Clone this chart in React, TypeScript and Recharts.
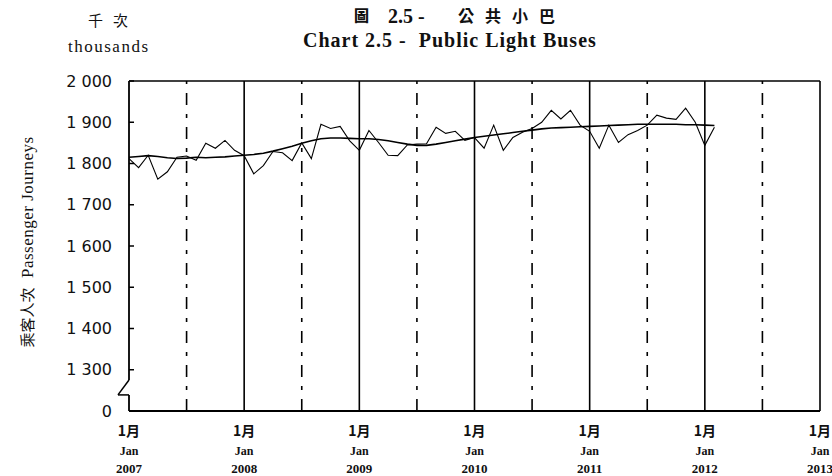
import React from 'react';
import { LineChart, Line, XAxis, YAxis, ReferenceLine } from 'recharts';

// monthly passenger journeys ('000), Jan 2007 - Feb 2012
const journeys = [
  1812, 1790, 1820, 1762, 1780, 1815, 1818, 1808, 1849, 1837, 1856, 1832,
  1819, 1775, 1795, 1829, 1826, 1807, 1850, 1812, 1895, 1885, 1890, 1855,
  1832, 1880, 1851, 1820, 1819, 1845, 1847, 1848, 1888, 1873, 1878, 1856,
  1863, 1837, 1893, 1832, 1863, 1876, 1885, 1900, 1929, 1908, 1929, 1893,
  1878, 1837, 1893, 1851, 1870, 1880, 1893, 1917, 1910, 1907, 1934, 1900,
  1844, 1888,
];

// trend line
const trend = [
  1815, 1817, 1819, 1817, 1814, 1812, 1813, 1815, 1814, 1815, 1816, 1818,
  1820, 1822, 1825, 1830, 1836, 1842, 1849, 1855, 1860, 1862, 1862, 1861,
  1860, 1860, 1858, 1855, 1851, 1847, 1844, 1844, 1847, 1851, 1855, 1859,
  1863, 1866, 1869, 1872, 1875, 1878, 1881, 1884, 1886, 1887, 1888, 1889,
  1890, 1891, 1892, 1893, 1894, 1895, 1895, 1895, 1895, 1895, 1894, 1894,
  1893, 1892,
];

const years = ['2007', '2008', '2009', '2010', '2011', '2012', '2013'];
const yearTicks = [0, 12, 24, 36, 48, 60, 72];
const halfYears = [6, 18, 30, 42, 54, 66];

// broken axis: 0, then 1 300 .. 2 000
const BREAK_OFFSET = 1200;
const yTicks = [0, 100, 200, 300, 400, 500, 600, 700, 800];
const yTickLabels = ['0', '1 300', '1 400', '1 500', '1 600', '1 700', '1 800', '1 900', '2 000'];

const data = journeys.map((v, i) => ({ m: i, v: v - BREAK_OFFSET, t: trend[i] - BREAK_OFFSET }));

const SERIF = '"Liberation Serif", "DejaVu Serif", serif';
const CJK = '"Noto Sans CJK TC", "Noto Sans CJK SC", sans-serif';

function YTick({ x, y, payload }: any) {
  const i = yTicks.indexOf(payload.value);
  return (
    <g>
      {payload.value > 0 && <line x1={x} x2={x + 5} y1={y} y2={y} stroke="#000" strokeWidth={1.5} />}
      <text x={x - 17} y={y} textAnchor="end" dominantBaseline="central" fontSize={16} fontFamily='"DejaVu Sans", sans-serif' fill="#111">
        {yTickLabels[i]}
      </text>
    </g>
  );
}

function XTick({ x, y, payload }: any) {
  const i = yearTicks.indexOf(payload.value);
  return (
    <g>
      <text x={x} y={y + 25} textAnchor="middle" fontSize={14} fontWeight="bold" fontFamily={CJK} fill="#111">1月</text>
      <text x={x} y={y + 44} textAnchor="middle" fontSize={12} fontWeight="bold" fontFamily={SERIF} fill="#111">Jan</text>
      <text x={x} y={y + 62} textAnchor="middle" fontSize={13} fontWeight="bold" fontFamily={SERIF} fill="#111">{years[i]}</text>
    </g>
  );
}

const abs = (left: number, top: number, extra: React.CSSProperties = {}): React.CSSProperties => ({
  position: 'absolute',
  left,
  top,
  lineHeight: 1,
  whiteSpace: 'pre',
  color: '#111',
  ...extra,
});

export default function App() {
  return (
    <div style={{ position: 'relative', width: 832, height: 476, background: '#fff', overflow: 'hidden' }}>
      <style>{'body{margin:0}'}</style>
      <LineChart width={832} height={476} data={data} margin={{ top: 81, right: 12, left: 0, bottom: 0 }}>
        <XAxis
          dataKey="m"
          type="number"
          domain={[0, 72]}
          ticks={yearTicks}
          interval={0}
          height={65}
          tickSize={0}
          tickMargin={0}
          tickLine={false}
          axisLine={{ stroke: '#000', strokeWidth: 2 }}
          tick={<XTick />}
        />
        <YAxis
          type="number"
          domain={[0, 800]}
          ticks={yTicks}
          interval={0}
          width={129}
          tickSize={0}
          tickMargin={0}
          tickLine={false}
          axisLine={false}
          tick={<YTick />}
        />
        {halfYears.map((m) => (
          <ReferenceLine key={'h' + m} x={m} stroke="#000" strokeWidth={1.6} strokeDasharray="12 9 4 9" />
        ))}
        {yearTicks.slice(1).map((m) => (
          <ReferenceLine key={'y' + m} x={m} stroke="#000" strokeWidth={1.6} />
        ))}
        <ReferenceLine y={800} stroke="#000" strokeWidth={1.6} />
        {/* y axis with break symbol */}
        <ReferenceLine segment={[{ x: 0, y: 800 }, { x: 0, y: 75 }]} stroke="#000" strokeWidth={1.8} ifOverflow="visible" />
        <ReferenceLine segment={[{ x: 0, y: 75 }, { x: -1.15, y: 39 }]} stroke="#000" strokeWidth={1.5} ifOverflow="visible" />
        <ReferenceLine segment={[{ x: -1.15, y: 39 }, { x: 0, y: 39 }]} stroke="#000" strokeWidth={1.5} ifOverflow="visible" />
        <ReferenceLine segment={[{ x: 0, y: 39 }, { x: 0, y: 0 }]} stroke="#000" strokeWidth={1.8} ifOverflow="visible" />
        <Line type="linear" dataKey="v" stroke="#000" strokeWidth={1.1} dot={false} isAnimationActive={false} />
        <Line type="linear" dataKey="t" stroke="#000" strokeWidth={1.6} dot={false} isAnimationActive={false} />
      </LineChart>

      <div style={abs(88, 12, { fontFamily: CJK, fontSize: 15, letterSpacing: 10 })}>千次</div>
      <div style={abs(68, 38, { fontFamily: SERIF, fontSize: 17, letterSpacing: 1.5 })}>thousands</div>

      <div style={abs(354, 7, { fontFamily: CJK, fontSize: 15, fontWeight: 900 })}>圖</div>
      <div style={abs(388, 6, { fontFamily: SERIF, fontSize: 20, fontWeight: 'bold' })}>2.5 -</div>
      <div style={abs(458, 7, { fontFamily: CJK, fontSize: 16, fontWeight: 'bold', letterSpacing: 11 })}>公共小巴</div>
      <div style={abs(303, 30, { fontFamily: SERIF, fontSize: 20, fontWeight: 'bold', letterSpacing: 1 })}>Chart 2.5 -  Public Light Buses</div>

      <div
        style={{
          position: 'absolute',
          left: 27 - 150,
          top: 242 - 10,
          width: 300,
          height: 20,
          lineHeight: '20px',
          textAlign: 'center',
          transform: 'rotate(-90deg)',
          whiteSpace: 'pre',
          color: '#111',
        }}
      >
        <span style={{ fontFamily: CJK, fontSize: 15 }}>乘客人次</span>
        <span style={{ fontFamily: SERIF, fontSize: 17, letterSpacing: 0.5 }}>  Passenger Journeys</span>
      </div>
    </div>
  );
}
